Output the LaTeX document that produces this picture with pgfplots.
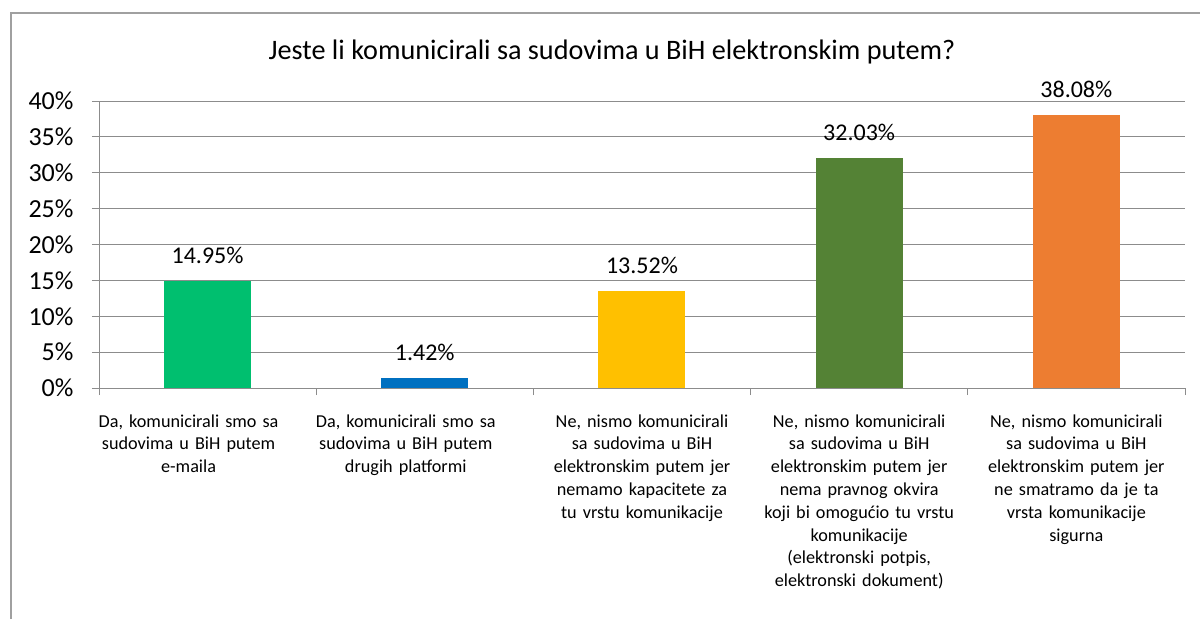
\documentclass[border=0pt]{standalone}
\usepackage{fontspec}
\setmainfont{Carlito}
\usepackage{pgfplots}
\pgfplotsset{compat=1.18}
\pgfplotsset{/pgf/number format/assume math mode=true}
\definecolor{gridgray}{HTML}{8C8C8C}
\definecolor{framegray}{HTML}{A0A0A0}
\definecolor{cA}{HTML}{00BF6F}
\definecolor{cB}{HTML}{0070C0}
\definecolor{cC}{HTML}{FFC000}
\definecolor{cD}{HTML}{548235}
\definecolor{cE}{HTML}{ED7D31}
\begin{document}
\begin{tikzpicture}[x=1pt,y=1pt]
\useasboundingbox (0,0) rectangle (1200,619);
% chart frame (only left and top edges visible)
\draw[framegray, line width=1.3pt] (11,0) -- (11,606) -- (1200,606);
\node[font=\fontsize{28.2}{34}\selectfont] at (612,567) {Jeste li komunicirali sa sudovima u BiH elektronskim putem?};
\begin{axis}[
  at={(99pt,231pt)}, anchor=south west,
  width=1086pt, height=287pt, scale only axis,
  ybar, bar width=87pt, bar shift=0pt,
  xmin=-0.5, xmax=4.5, ymin=0, ymax=40,
  axis lines*=left,
  axis line style={-, draw=gridgray, line width=0.9pt},
  ymajorgrids,
  major grid style={draw=gridgray, line width=0.9pt},
  tick align=outside,
  major tick length=7pt,
  ytick={0,5,...,40},
  yticklabel={\pgfmathprintnumber{\tick}\%},
  ytick style={draw=gridgray, line width=0.9pt},
  yticklabel style={font=\fontsize{26}{30}\selectfont, xshift=-15pt},
  xtick={-0.0876,0.9124,2,3,4},
  xtick style={draw=none},
  xticklabels={
    {Da, komunicirali smo sa\\sudovima u BiH putem\\e-maila},
    {Da, komunicirali smo sa\\sudovima u BiH putem\\drugih platformi},
    {Ne, nismo komunicirali\\sa sudovima u BiH\\elektronskim putem jer\\nemamo kapacitete za\\tu vrstu komunikacije},
    {Ne, nismo komunicirali\\sa sudovima u BiH\\elektronskim putem jer\\nema pravnog okvira\\koji bi omogućio tu vrstu\\komunikacije\\(elektronski potpis,\\elektronski dokument)},
    {Ne, nismo komunicirali\\sa sudovima u BiH\\elektronskim putem jer\\ne smatramo da je ta\\vrsta komunikacije\\sigurna}
  },
  xticklabel style={font=\fontsize{18.2}{22.8}\selectfont, text width=210pt, align=center, anchor=north, yshift=-16pt},
  extra x ticks={-0.5,0.5,1.5,2.5,3.5,4.5},
  extra x tick labels={,,,,,},
  extra x tick style={xtick style={draw=gridgray, line width=0.9pt}},
  nodes near coords={\pgfmathprintnumber[fixed,fixed zerofill,precision=2]{\pgfplotspointmeta}\%},
  every node near coord/.append style={font=\fontsize{24}{28}\selectfont, black, yshift=14pt},
  clip=false,
]
\addplot[fill=cA, draw=none] coordinates {(0,14.95)};
\addplot[fill=cB, draw=none] coordinates {(1,1.42)};
\addplot[fill=cC, draw=none] coordinates {(2,13.52)};
\addplot[fill=cD, draw=none] coordinates {(3,32.03)};
\addplot[fill=cE, draw=none] coordinates {(4,38.08)};
\end{axis}
\end{tikzpicture}
\end{document}
